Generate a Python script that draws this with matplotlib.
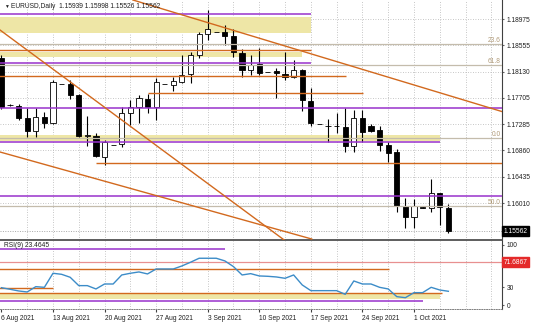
import numpy as np
import matplotlib.pyplot as plt
from matplotlib.transforms import blended_transform_factory

plt.rcParams['font.family'] = ['Liberation Sans', 'DejaVu Sans']

# EURUSD daily, 6 Aug 2021 .. 6 Oct 2021 (sunday stubs included)
opens = [1.18348, 1.17595, 1.17575, 1.17382, 1.17173, 1.17398, 1.17302, 1.17932, 1.17929, 1.17752,
         1.17092, 1.17092, 1.16755, 1.16950, 1.16964, 1.17463, 1.17559, 1.17688, 1.17559, 1.17931,
         1.17913, 1.17961, 1.18090, 1.18396, 1.18734, 1.18768, 1.18766, 1.18701, 1.18428, 1.18154,
         1.18251, 1.18124, 1.18138, 1.18090, 1.18042, 1.18154, 1.17656, 1.17288, 1.17254, 1.17254,
         1.17237, 1.16932, 1.17382, 1.17254, 1.17189, 1.16948, 1.16835, 1.15966, 1.15789, 1.15950,
         1.15934, 1.16175, 1.15939]
highs = [1.18400, 1.17600, 1.17607, 1.17543, 1.17543, 1.17479, 1.17993, 1.17935, 1.17993, 1.17768,
         1.17414, 1.17141, 1.17028, 1.16955, 1.17559, 1.17672, 1.17752, 1.17768, 1.18026, 1.17935,
         1.18042, 1.18396, 1.18444, 1.18766, 1.19120, 1.18772, 1.18878, 1.18814, 1.18492, 1.18396,
         1.18508, 1.18128, 1.18187, 1.18444, 1.18315, 1.18171, 1.17865, 1.17292, 1.17366, 1.17463,
         1.17543, 1.17511, 1.17511, 1.17286, 1.17254, 1.16996, 1.16883, 1.16095, 1.16079, 1.15966,
         1.16401, 1.16175, 1.15998]
lows = [1.17530, 1.17582, 1.17350, 1.17076, 1.17076, 1.17221, 1.17286, 1.17925, 1.17688, 1.17076,
        1.16932, 1.16755, 1.16626, 1.16945, 1.16916, 1.17270, 1.17302, 1.17463, 1.17350, 1.17925,
        1.17817, 1.17945, 1.17945, 1.18348, 1.18637, 1.18760, 1.18557, 1.18364, 1.18042, 1.18074,
        1.18074, 1.18118, 1.17704, 1.17993, 1.18026, 1.17495, 1.17254, 1.17282, 1.16996, 1.17141,
        1.16835, 1.16835, 1.16996, 1.17157, 1.16851, 1.16674, 1.15870, 1.15612, 1.15612, 1.15934,
        1.15870, 1.15660, 1.15526]
closes = [1.17559, 1.17588, 1.17382, 1.17173, 1.17398, 1.17302, 1.17961, 1.17928, 1.17752, 1.17092,
          1.17108, 1.16771, 1.16996, 1.16946, 1.17463, 1.17559, 1.17704, 1.17559, 1.17961, 1.17927,
          1.17977, 1.18074, 1.18396, 1.18734, 1.18814, 1.18764, 1.18701, 1.18444, 1.18154, 1.18235,
          1.18106, 1.18120, 1.18106, 1.18042, 1.18154, 1.17672, 1.17302, 1.17285, 1.17246, 1.17246,
          1.16932, 1.17382, 1.17157, 1.17173, 1.16948, 1.16819, 1.15966, 1.15789, 1.15966, 1.15934,
          1.16175, 1.15950, 1.15562]
rsi = [29.4, 26.8, 24.0, 22.3, 31.1, 30.0, 53.2, 51.5, 46.6, 32.8,
       32.8, 27.3, 35.5, 35.5, 50.4, 53.2, 55.4, 52.1, 60.3, 60.3,
       60.3, 65.3, 71.4, 78.0, 78.0, 78.0, 73.6, 64.2, 50.4, 52.6,
       48.8, 48.2, 47.1, 44.9, 50.4, 33.9, 24.5, 24.5, 24.5, 24.5,
       18.5, 40.5, 35.5, 35.5, 30.0, 27.3, 14.6, 12.9, 21.2, 21.2,
       30.0, 25.6, 23.46]

date_pos = [0, 6, 12, 18, 24, 30, 36, 42, 48]
date_labels = ['6 Aug 2021', '13 Aug 2021', '20 Aug 2021', '27 Aug 2021', '3 Sep 2021',
               '10 Sep 2021', '17 Sep 2021', '24 Sep 2021', '1 Oct 2021']
price_ticks = [1.18975, 1.18555, 1.18130, 1.17705, 1.17285, 1.16860, 1.16435, 1.16010]
last_price = 1.15562

# drawn objects (price level, from bar, to bar)
purple_lines = [(1.19055, -1, 36.0), (1.18267, -1, 36.0), (1.17543, -1, 60),
                (1.16996, -1, 51.0), (1.16127, -1, 60)]
orange_lines = [(1.18476, -1, 36.0), (1.18058, -1, 40.1), (1.17784, 17.1, 42.1),
                (1.16658, 11.0, 60)]
zones = [(1.18750, 1.19007, -1, 36.0), (1.18364, 1.18444, -1, 35.0), (1.17012, 1.17109, -1, 51.0)]
fib_levels = [1.18573, 1.18235, 1.17060, 1.15966]
fib_labels = ['23.6', '61.8', '0.0', '50.0']
trend_lines = [((15.3, 1.19281), (58.4, 1.17479)),
               ((-0.16, 1.18798), (32.9, 1.15419)),
               ((-0.16, 1.16835), (36.1, 1.15435))]

rsi_purple = [(93.4, -1, 26.0), (7.4, -1, 49.1)]
rsi_orange = [(60.3, -1, 45.1), (28.9, -1, 6.0), (20.7, -1, 51.3)]
rsi_zone = (10.7, 19.0, -1, 51.0)
rsi_level = 71.6867

PURPLE = '#9932cc'
ORANGE = '#d2691e'
YELLOW = '#eee6a6'
FIB = '#c4bcac'
GRID = '#b4b4b4'
FS = 4.8

W, H = 536, 322
fig = plt.figure(figsize=(W / 100, H / 100), dpi=100)
ax = fig.add_axes([0, 1 - 240 / H, 502 / W, 240 / H])
rax = fig.add_axes([0, 1 - 309 / H, 502 / W, 68 / H], sharex=ax)

xmin, xmax = -0.163, 58.24
ax.set_xlim(xmin, xmax)
ax.set_ylim(1.15419, 1.19281)
rax.set_ylim(-5.8, 106.5)

# grid
for a in (ax, rax):
    for gx in range(3, 59, 3):
        a.axvline(gx, color=GRID, lw=0.6, ls=(0, (1, 2)), zorder=0)
for p in price_ticks:
    ax.axhline(p, color=GRID, lw=0.6, ls=(0, (1, 2)), zorder=0)

# zones
for lo, hi, x0, x1 in zones:
    ax.fill_between([x0, x1], lo, hi, color=YELLOW, lw=0, zorder=1)

# candles
x = np.arange(len(opens))
o, h, l, c = map(np.array, (opens, highs, lows, closes))
up = c >= o
ax.vlines(x, l, h, color='black', lw=0.8, zorder=3)
body_lo = np.minimum(o, c)
body_h = np.maximum(np.abs(c - o), 0.00002)
ax.bar(x, body_h, bottom=body_lo, width=0.6, color=np.where(up, 'white', 'black'),
       edgecolor='black', lw=0.6, zorder=4)

# bid line
ax.axhline(last_price, color='#a8a8a8', lw=0.7, ls=(0, (1, 1.5)), zorder=2)

# fib levels
for lv, lab in zip(fib_levels, fib_labels):
    ax.axhline(lv, color=FIB, lw=0.9, zorder=5)
    ax.text(0.997, lv, lab, transform=blended_transform_factory(ax.transAxes, ax.transData),
            ha='right', va='bottom', fontsize=FS, color='#b09a78', zorder=6)

for lv, x0, x1 in orange_lines:
    ax.hlines(lv, x0, x1, color=ORANGE, lw=1.0, zorder=5)
for lv, x0, x1 in purple_lines:
    ax.hlines(lv, x0, x1, color=PURPLE, lw=1.1, zorder=5)
for (x0, y0), (x1, y1) in trend_lines:
    ax.plot([x0, x1], [y0, y1], color=ORANGE, lw=1.0, zorder=5)

# price axis
ax.yaxis.tick_right()
ax.set_yticks(price_ticks)
ax.set_yticklabels(['%.5f' % p for p in price_ticks])
ax.tick_params(axis='y', labelsize=FS, length=1.5, pad=2, color='#606060', labelcolor='#202020')
ax.tick_params(axis='x', bottom=False, labelbottom=False)
ax.text(1.003, last_price, '%.5f' % last_price, transform=blended_transform_factory(ax.transAxes, ax.transData),
        ha='left', va='center', fontsize=FS, color='white', clip_on=False, zorder=10,
        bbox=dict(boxstyle='square,pad=0.25', fc='black', ec='black'))

for s in ('top', 'left'):
    ax.spines[s].set_visible(False)
ax.spines['right'].set_color('#404040')
ax.spines['right'].set_linewidth(0.8)
ax.spines['bottom'].set_color('#505050')
ax.spines['bottom'].set_linewidth(1.3)

fig.text(4 / W, 1 - 6 / H, '\u25bc', fontsize=3.5, va='center', ha='left', color='#202020')
fig.text(11 / W, 1 - 6 / H, 'EURUSD,Daily  1.15939 1.15998 1.15526 1.15562', fontsize=FS,
         va='center', ha='left', color='#202020')

# RSI panel
lo, hi, x0, x1 = rsi_zone
rax.fill_between([x0, x1], lo, hi, color=YELLOW, lw=0, zorder=1)
rax.axhline(rsi_level, color='#e89090', lw=0.9, zorder=2)
for lv, x0, x1 in rsi_orange:
    rax.hlines(lv, x0, x1, color=ORANGE, lw=1.0, zorder=3)
for lv, x0, x1 in rsi_purple:
    rax.hlines(lv, x0, x1, color=PURPLE, lw=1.1, zorder=3)
rax.plot(x, rsi, color='#3c8cc8', lw=1.0, zorder=4)
rax.text(4 / 502, 99.5, 'RSI(9) 23.4645', transform=blended_transform_factory(rax.transAxes, rax.transData),
         fontsize=FS, va='center', ha='left', color='#202020', zorder=6)
rax.text(1.003, rsi_level, '%.4f' % rsi_level, transform=blended_transform_factory(rax.transAxes, rax.transData),
         ha='left', va='center', fontsize=FS, color='white', clip_on=False, zorder=10,
         bbox=dict(boxstyle='square,pad=0.25', fc='#e42a2a', ec='#e42a2a'))

rax.yaxis.tick_right()
rax.set_yticks([100, 30, 0])
rax.set_yticklabels(['100', '30', '0'])
rax.tick_params(axis='y', labelsize=FS, length=1.5, pad=2, color='#606060', labelcolor='#202020')
rax.set_xticks(date_pos)
rax.set_xticklabels(date_labels, ha='left')
rax.tick_params(axis='x', labelsize=FS, length=2.5, pad=1.5, color='#404040', labelcolor='#202020')
rax.spines['left'].set_visible(False)
rax.spines['top'].set_visible(False)
rax.spines['right'].set_color('#404040')
rax.spines['right'].set_linewidth(0.8)
rax.spines['bottom'].set_color('#808080')
rax.spines['bottom'].set_linewidth(0.7)
rax.spines['bottom'].set_linestyle((0, (1, 1.5)))

fig.savefig('out.png', dpi=100, facecolor='white')
